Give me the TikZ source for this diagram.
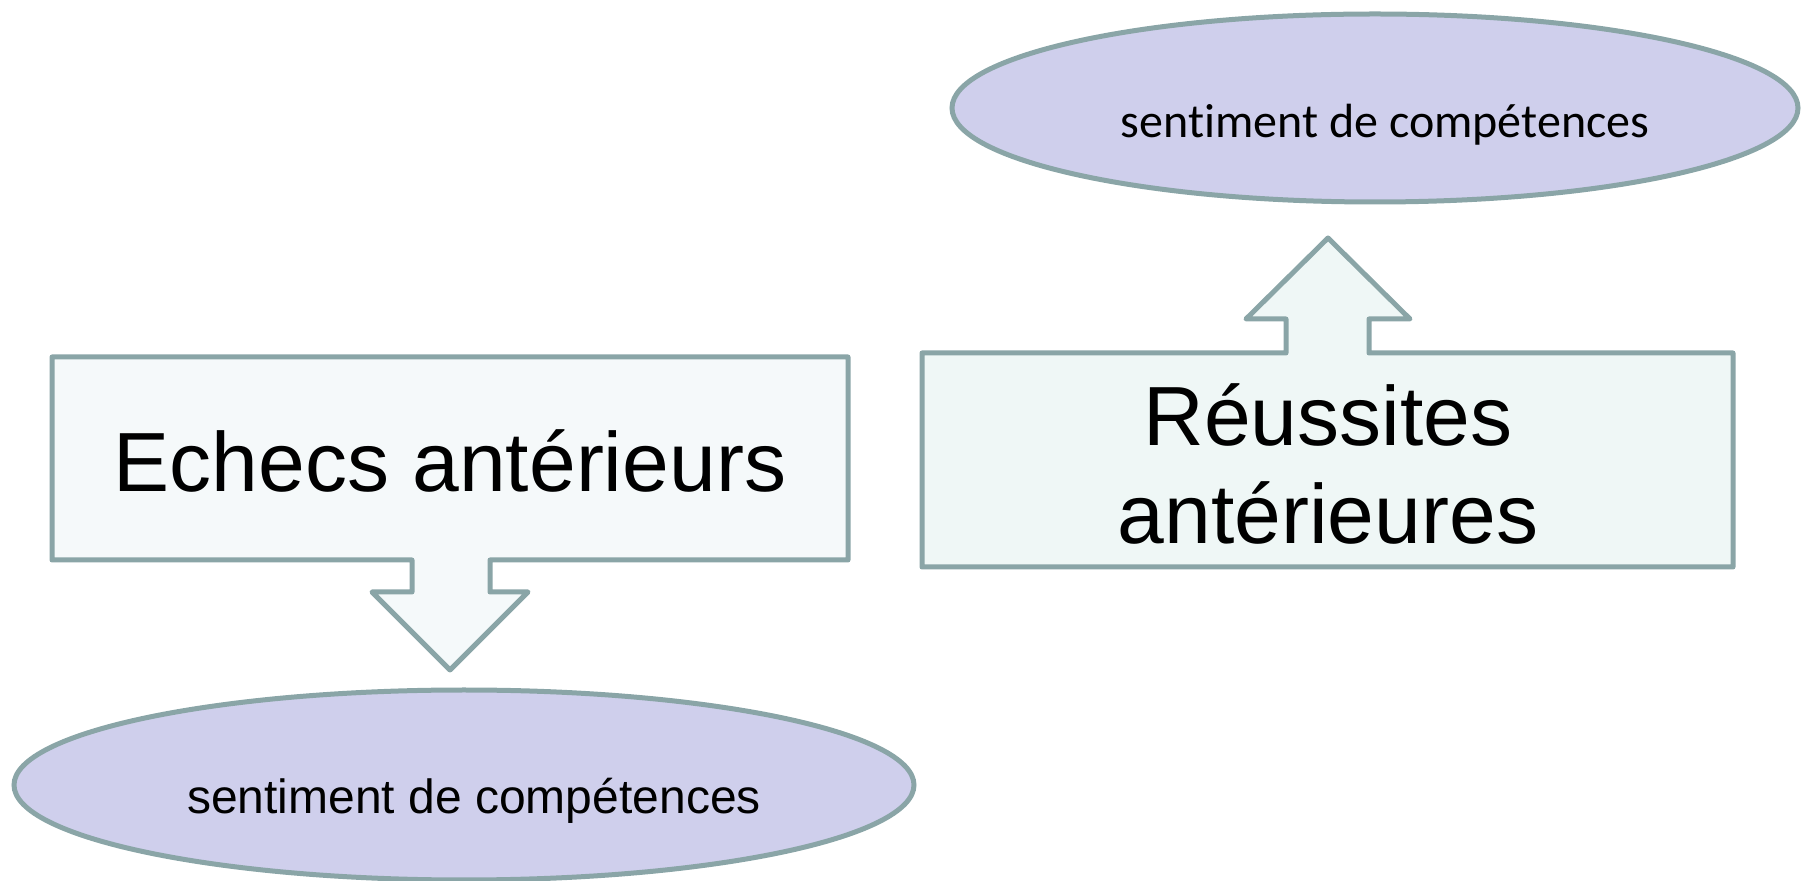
\documentclass[tikz,border=0pt]{standalone}
\usepackage{fontspec}
\setmainfont{Liberation Sans}
\newfontfamily\carlito[Ligatures=NoCommon]{Carlito}
\usetikzlibrary{shapes.geometric}
\definecolor{bord}{HTML}{8AA5A7}
\definecolor{lavande}{HTML}{CFCFEC}
\definecolor{fondg}{HTML}{F5F9FA}
\definecolor{fondd}{HTML}{EFF7F6}
\tikzset{
	bulle/.style={ellipse,draw=bord,fill=lavande,line width=2.5pt,inner sep=0pt},
	bloc/.style={draw=bord,line width=2.5pt,line join=round},
	grand/.style={font=\fontsize{42}{49}\selectfont,align=center,inner sep=0pt},
	petit/.style={font=\fontsize{24}{29}\selectfont,inner sep=0pt}
}

\begin{document}
\begin{tikzpicture}[x=0.5pt,y=-0.5pt]
	\useasboundingbox (0,0) rectangle (1801,881);
	% bloc de gauche avec sa fleche vers le bas
	\draw [bloc,fill=fondg] (52,357) -- (848,357) -- (848,560) -- (490,560) -- (490,592) -- (528,592)
		-- (450,670) -- (372,592) -- (412,592) -- (412,560) -- (52,560) -- cycle;
	% bloc de droite avec sa fleche vers le haut
	\draw [bloc,fill=fondd] (922,353) -- (1286,353) -- (1286,319) -- (1246,319) -- (1328,238)
		-- (1410,319) -- (1369,319) -- (1369,353) -- (1733,353) -- (1733,567) -- (922,567) -- cycle;
	\node (echecs) [grand] at (450,461) {Echecs antérieurs};
	\node (reussites) [grand] at (1328,464) {Réussites\\antérieures};
	\node (bullehaut) [bulle,minimum width=423pt,minimum height=94pt] at (1375,108) {};
	\node (senthaut) [petit,font=\carlito\fontsize{24}{29}\selectfont] at (1385,125) {sentiment de compétences};
	\node (bullebas) [bulle,minimum width=450pt,minimum height=95pt] at (464,785) {};
	\node (sentbas) [petit] at (474,801) {sentiment de compétences};
\end{tikzpicture}
\end{document}
